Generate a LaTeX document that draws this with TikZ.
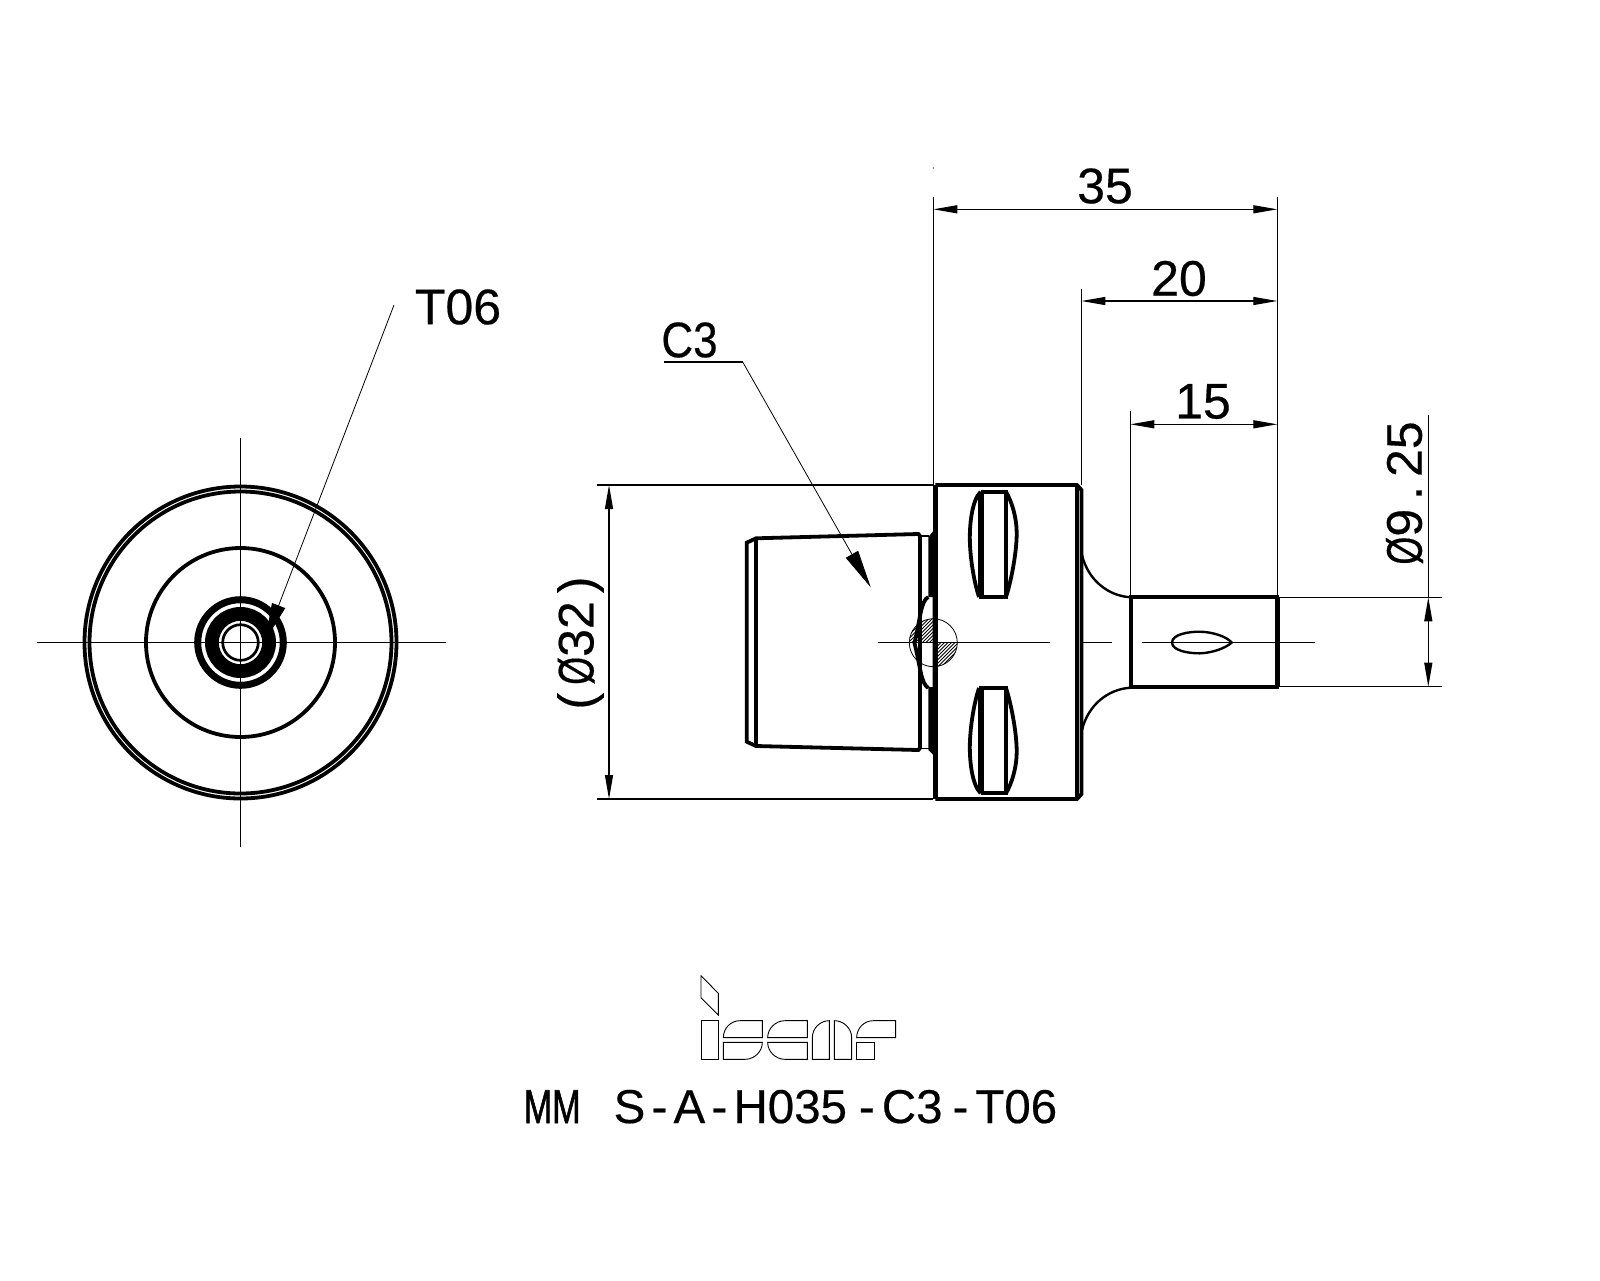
\documentclass[tikz,border=0pt]{standalone}
\usepackage{fontspec}
\setmainfont[FakeBold=0.4]{Liberation Sans}
\usetikzlibrary{arrows.meta}

\newcommand{\dia}{\scalebox{.72}[1]{Ø}}

\tikzset{
    partline/.style={line width=3.8pt},
    thinline/.style={line width=1.2pt},
    hairline/.style={line width=.8pt},
    dimlabel/.style={font=\fontsize{50}{60}\selectfont, inner sep=0pt},
    titlelabel/.style={font=\fontsize{47.5}{60}\selectfont, inner sep=0pt},
    logoline/.style={line width=.9pt},
    leadertip/.style={-{Triangle[length=38pt,width=14pt]}},
}

\begin{document}
\begin{tikzpicture}[x=1pt, y=-1pt, >={Triangle[length=24pt,width=8pt]}]

    \useasboundingbox (0,0) rectangle (1600,1280);

    % end view
    \coordinate (hub) at (240.5,642.5);
    \coordinate (hubT) at (240.5,438);
    \coordinate (hubB) at (240.5,847);
    \coordinate (hubL) at (37,642.5);
    \coordinate (hubR) at (446,642.5);

    \draw [partline] (hub) circle [radius=156pt];
    \draw [partline] (hub) circle [radius=151pt];
    \draw [partline] (hub) circle [radius=94.5pt];
    \draw [line width=7pt] (hub) circle [radius=42.8pt];
    \draw [line width=13.8pt] (hub) circle [radius=28.6pt];
    \draw [line width=2.7pt] (hub) circle [radius=17.8pt];
    \draw [thinline] (hubT) -- (hubB);
    \draw [thinline] (hubL) -- (hubR);

    \node[dimlabel] (toolT) at (458,307) {T06};
    \coordinate (toolLead) at (394,305);
    \coordinate (toolTip) at (265,641);
    \draw [hairline, leadertip] (toolLead) -- (toolTip);

    % side view, hatching first
    \begin{scope}
        \clip (909,618) rectangle (933.3,642.7);
        \clip (933.3,642.7) circle [radius=24pt];
        \foreach \hx in {920,923.5,...,980}
            \draw [hairline] (\hx,610) -- ++(-40,40);
    \end{scope}
    \begin{scope}
        \clip (933.3,642.7) rectangle (958,667);
        \clip (933.3,642.7) circle [radius=24pt];
        \foreach \hx in {950,953.5,...,1010}
            \draw [hairline] (\hx,630) -- ++(-40,40);
    \end{scope}
    \draw [hairline] (933.3,642.7) circle [radius=24pt];

    % cylinder
    \draw [partline] (746.7,542.7) -- (756,538.3) -- (918.3,534) -- (920,536)
        -- (920,748) -- (918.3,750) -- (756,746) -- (746.7,741.7) -- cycle;
    \draw [partline] (756,538.3) -- (756,746);
    \draw [thinline] (920,536) -- (929,536);
    \draw [thinline] (920,748.5) -- (929,748.5);
    \draw [partline] (928.3,597) .. controls (921,600) and (920,620) .. (914.5,643)
        .. controls (920,665) and (921,684) .. (928.3,688);

    % flange
    \fill (928.3,537) -- (933.3,531) -- (937.3,531) -- (937.3,755) -- (933.3,755)
        -- (928.3,750) -- (928.3,687) -- (932.5,687) -- (932.5,597) -- (928.3,597) -- cycle;
    \draw [line width=5pt] (935.3,485) -- (935.3,799);
    \draw [partline] (935.3,485) -- (1077,485) -- (1081.5,490) -- (1081.5,794)
        -- (1077,799) -- (935.3,799);
    \draw [partline] (1077,485) -- (1077,799);

    % slots and fillets, upper one then mirrored
    \foreach \flip in {1,-1} {
        \begin{scope}[shift={(0,642.5)}, yscale=\flip, shift={(0,-642.5)}]
            \draw [line width=6pt] (980.8,491.7) -- (980.8,596.7);
            \draw [partline] (980.7,491.7) -- (1006,491.7) -- (1006,596.7) -- (978.7,596.7);
            \draw [partline] (980.7,491.7) .. controls (972,500) and (969,525) .. (970,545)
                .. controls (971,565) and (975,585) .. (979,597);
            \draw [partline] (1006,491.7) .. controls (1012,502) and (1016.7,518) .. (1016.7,533)
                .. controls (1016.7,555) and (1010,585) .. (1006,597);
            \draw [line width=2.4pt] (1082,555) .. controls (1088,580) and (1108,596) .. (1130.7,597.3);
        \end{scope}
    }

    % shank
    \draw [partline] (1130.7,597.3) rectangle (1277.3,686.7);
    \draw [line width=4.5pt] (1277.3,597.3) -- (1277.3,686.7);
    \draw [line width=2.4pt] (1172,642.5) .. controls (1172,634) and (1190,631.5) .. (1200,631.7)
        .. controls (1212,632) and (1226,636) .. (1231.7,642.5)
        .. controls (1226,648) and (1212,653) .. (1200,653.3)
        .. controls (1190,653.5) and (1172,651) .. cycle;

    \coordinate (axisA) at (878,642.5);
    \coordinate (axisB) at (1050,642.5);
    \coordinate (axisC) at (1082.3,642.5);
    \coordinate (axisD) at (1111.7,642.5);
    \coordinate (axisE) at (1141.7,642.5);
    \coordinate (axisF) at (1315,642.5);
    \draw [thinline] (axisA) -- (axisB);
    \draw [thinline] (axisC) -- (axisD);
    \draw [thinline] (axisE) -- (axisF);

    % C3 leader
    \node[dimlabel] (collet) at (689.5,340) {\scalebox{.88}[1]{C3}};
    \coordinate (colletA) at (664,362);
    \coordinate (colletB) at (742.7,362);
    \coordinate (colletTip) at (870.7,587.3);
    \draw [thinline] (colletA) -- (colletB);
    \draw [hairline, leadertip] (colletB) -- (colletTip);

    % length dimensions
    \coordinate (lenA) at (933.3,209.3);
    \coordinate (lenZ) at (1277.3,209.3);
    \coordinate (midA) at (1081.3,301);
    \coordinate (midZ) at (1277.3,301);
    \coordinate (shortA) at (1130.3,424.3);
    \coordinate (shortZ) at (1277.3,424.3);
    \draw [thinline, <->] (lenA) -- (lenZ);
    \draw [thinline, <->] (midA) -- (midZ);
    \draw [thinline, <->] (shortA) -- (shortZ);
    \coordinate (extA) at (933.3,196.7);
    \coordinate (extAend) at (933.3,485);
    \coordinate (extB) at (1081.3,289);
    \coordinate (extBend) at (1081.3,485);
    \coordinate (extC) at (1130.3,411);
    \coordinate (extCend) at (1130.3,597.3);
    \coordinate (extZ) at (1277.3,196.7);
    \coordinate (extZend) at (1277.3,597.3);
    \draw [thinline] (extA) -- (extAend);
    \draw [thinline] (extB) -- (extBend);
    \draw [thinline] (extC) -- (extCend);
    \draw [thinline] (extZ) -- (extZend);
    \fill (933.3,168) circle [radius=.6pt];
    \node[dimlabel] (lenLabel) at (1105,186) {35};
    \node[dimlabel] (midLabel) at (1179,278.5) {20};
    \node[dimlabel] (shortLabel) at (1203,401.5) {15};

    % diameters
    \coordinate (bodyTop) at (597,485);
    \coordinate (bodyTopEnd) at (933.3,485);
    \coordinate (bodyBot) at (597,799);
    \coordinate (bodyBotEnd) at (933.3,799);
    \coordinate (bodyA) at (609,485);
    \coordinate (bodyB) at (609,799);
    \draw [thinline] (bodyTop) -- (bodyTopEnd);
    \draw [thinline] (bodyBot) -- (bodyBotEnd);
    \draw [thinline, <->] (bodyA) -- (bodyB);
    \node[dimlabel, rotate=90, anchor=base] (bodyLabel) at (593.4,643) {(\kern8pt\dia32\kern8pt)};

    \coordinate (shankTop) at (1277.3,597.3);
    \coordinate (shankTopEnd) at (1441.7,597.3);
    \coordinate (shankBot) at (1277.3,686.7);
    \coordinate (shankBotEnd) at (1441.7,686.7);
    \coordinate (shankA) at (1428.3,597.3);
    \coordinate (shankB) at (1428.3,686.7);
    \coordinate (shankLead) at (1428.3,415);
    \draw [thinline] (shankTop) -- (shankTopEnd);
    \draw [thinline] (shankBot) -- (shankBotEnd);
    \draw [thinline] (shankLead) -- (shankA);
    \draw [thinline, <->] (shankA) -- (shankB);
    \node[dimlabel, rotate=90, anchor=base] (shankLabel) at (1421.7,493) {\dia9\kern9pt.\kern9pt25};

    % logo
    \begin{scope}[shift={(690,970)}, x=.3333pt, y=-.3333pt, logoline]
        \draw (33,17) -- (85,70) -- (85,135) -- (33,83) -- cycle;
        \draw (33,152) rectangle (85,268);
        \draw (217,152) -- (150,152) .. controls (122,152) and (100,175) .. (100,203) -- (217,203) -- cycle;
        \draw (100,217) -- (217,217) .. controls (217,245) and (193,268) .. (165,268) -- (100,268) -- cycle;
        \draw (352,152) -- (285,152) .. controls (257,152) and (233,175) .. (233,203) -- (352,203) -- cycle;
        \draw (233,217) -- (352,217) -- (352,268) -- (285,268) .. controls (257,268) and (233,245) .. (233,217) -- cycle;
        \draw (418,152) -- (418,268) -- (367,268) -- (367,203) .. controls (367,175) and (390,152) .. (418,152) -- cycle;
        \draw (433,152) .. controls (461,152) and (485,175) .. (485,203) -- (485,268) -- (433,268) -- cycle;
        \draw (500,203) .. controls (500,175) and (522,152) .. (550,152) -- (617,152) -- (617,203) -- cycle;
        \draw (500,217) rectangle (552,268);
    \end{scope}

    \node[titlelabel, anchor=base west] (title) at (523.5,1123)
        {\scalebox{.72}[1]{\addfontfeature{FakeBold=1.5}MM}\hspace{33pt}S\kern6.2pt-\kern6.2pt A\kern6.2pt-\kern6.2pt H035\kern12pt-\kern7pt C3\kern10pt-\kern7pt T06};

\end{tikzpicture}
\end{document}
